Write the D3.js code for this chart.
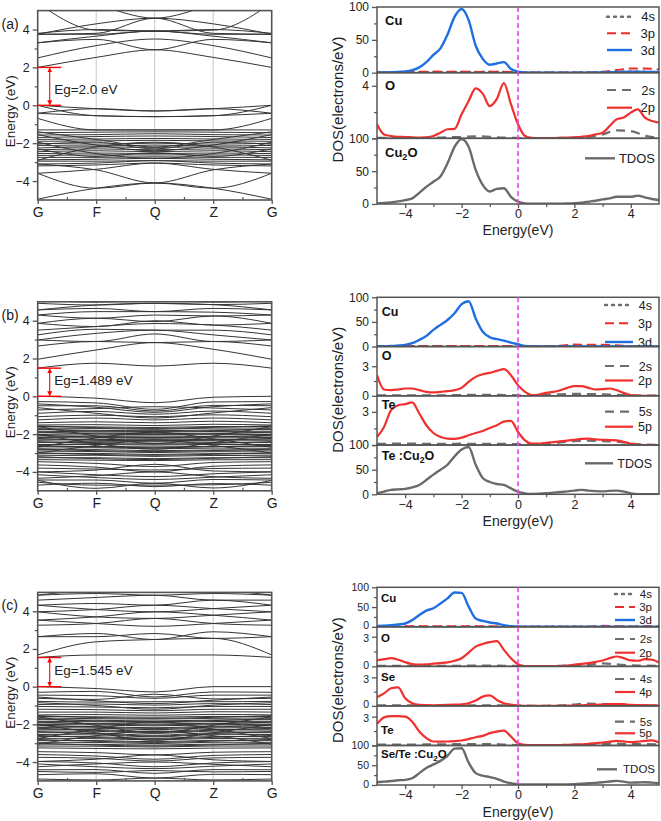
<!DOCTYPE html>
<html><head><meta charset="utf-8">
<script src="https://cdn.jsdelivr.net/npm/d3@7"></script>
<style>
body{margin:0;background:#fff;}
svg{display:block;font-family:"Liberation Sans",Arial,Helvetica,sans-serif;}
</style>
</head><body>
<svg id="chart" width="661" height="821"></svg>
<script>
// ---------------- DATA ----------------
const kLabels = ["G","F","Q","Z","G"];
const kPos = [0,1,2,3,4];
const bandTicks = [-4,-2,0,2,4];
const gapValues = [2.0, 1.489, 1.545];
const gapTexts = ["Eg=2.0 eV","Eg=1.489 eV","Eg=1.545 eV"];
const panelTags = ["(a)","(b)","(c)"];

// band energies at G, F, Q, Z, G (eV)
const bandsA = [
 [2.00,2.53,2.93,2.53,2.00],[2.50,3.15,3.50,3.15,2.50],[3.30,3.48,2.93,3.48,3.30],
 [3.30,3.65,3.92,3.65,3.30],[3.75,3.75,3.92,3.75,3.75],[3.75,3.80,4.60,3.80,3.75],
 [3.80,4.00,3.92,4.00,3.80],[5.40,3.97,3.92,3.97,5.40],[6.00,5.30,4.60,5.30,6.00],
 [3.75,4.30,4.60,4.30,3.75],
 [0.00,-0.18,-0.30,-0.18,0.00],[0.00,-0.55,-0.60,-0.55,0.00],[-0.42,-0.18,-0.30,-0.18,-0.42],
 [-0.69,-1.30,-1.30,-1.30,-0.69],[-0.42,-0.55,-0.60,-0.55,-0.42],
 [-1.30,-1.30,-1.30,-1.30,-1.30],[-1.45,-1.42,-1.40,-1.42,-1.45],[-1.57,-1.55,-1.50,-1.55,-1.57],
 [-1.70,-1.65,-1.62,-1.65,-1.70],[-1.80,-1.78,-1.75,-1.78,-1.80],[-1.90,-1.88,-1.85,-1.88,-1.90],
 [-2.00,-2.05,-2.00,-2.05,-2.00],[-2.12,-2.15,-2.10,-2.15,-2.12],[-2.25,-2.20,-2.22,-2.20,-2.25],
 [-2.35,-2.30,-2.35,-2.30,-2.35],[-2.45,-2.40,-2.45,-2.40,-2.45],[-2.55,-2.52,-2.55,-2.52,-2.55],
 [-2.65,-2.62,-2.62,-2.62,-2.65],[-2.75,-2.75,-2.72,-2.75,-2.75],[-2.88,-2.85,-2.80,-2.85,-2.88],
 [-2.95,-2.95,-2.92,-2.95,-2.95],[-3.10,-3.05,-2.92,-3.05,-3.10],[-3.20,-3.15,-3.05,-3.15,-3.20],
 [-1.55,-2.10,-2.40,-2.10,-1.55],[-2.90,-2.20,-1.95,-2.20,-2.90],[-2.30,-2.70,-2.50,-2.70,-2.30],
 [-1.95,-2.55,-2.80,-2.55,-1.95],[-1.40,-1.80,-2.20,-1.80,-1.40],[-2.05,-1.95,-2.30,-1.95,-2.05],
 [-3.59,-3.38,-3.05,-3.38,-3.59],[-3.59,-4.38,-4.10,-4.38,-3.59],[-4.96,-4.38,-4.10,-4.38,-4.96],
 [-3.10,-3.41,-4.10,-3.41,-3.10]
];
const bandsB = [
 [1.49,1.75,1.60,1.75,1.49],[1.96,2.45,2.84,2.49,1.96],[2.66,2.90,2.84,2.90,2.66],
 [2.98,2.90,3.30,2.90,2.98],[2.98,3.33,3.50,3.25,2.98],[3.25,3.55,3.50,3.50,3.25],
 [3.50,3.69,3.85,3.77,3.50],[3.86,3.69,4.00,3.77,3.86],[3.86,4.13,3.95,4.25,3.86],
 [4.30,4.13,4.30,4.25,4.30],[4.30,4.48,4.48,4.45,4.30],[4.57,4.65,4.48,4.65,4.57],
 [4.57,4.83,4.92,4.85,4.57],[4.92,4.83,4.92,4.85,4.92],[5.10,4.98,5.10,4.98,5.10],
 [0.00,-0.10,-0.34,-0.05,0.00],[-0.28,-0.35,-0.69,-0.30,-0.28],[-0.50,-0.50,-0.78,-0.48,-0.50],
 [-0.72,-0.65,-0.55,-0.62,-0.72],[-0.90,-0.80,-0.95,-0.78,-0.90],[-1.08,-1.00,-1.08,-0.98,-1.08],
 [-1.25,-1.15,-1.25,-1.15,-1.25],[-1.40,-1.35,-1.40,-1.32,-1.40],
 [-0.40,-0.58,-0.85,-0.55,-0.40],[-0.60,-0.90,-1.15,-0.88,-0.60],
 [-1.52,-1.50,-1.55,-1.48,-1.52],[-1.60,-1.62,-1.65,-1.60,-1.60],[-1.68,-1.70,-1.75,-1.68,-1.68],
 [-1.76,-1.80,-1.82,-1.78,-1.76],[-1.85,-1.88,-1.90,-1.86,-1.85],[-1.93,-1.95,-1.98,-1.95,-1.93],
 [-2.02,-2.05,-2.05,-2.03,-2.02],[-2.10,-2.12,-2.15,-2.12,-2.10],[-2.18,-2.20,-2.22,-2.20,-2.18],
 [-2.27,-2.28,-2.30,-2.28,-2.27],[-2.35,-2.38,-2.38,-2.36,-2.35],[-2.45,-2.45,-2.48,-2.45,-2.45],
 [-2.55,-2.55,-2.58,-2.55,-2.55],[-2.65,-2.65,-2.68,-2.65,-2.65],[-2.75,-2.72,-2.78,-2.74,-2.75],
 [-2.85,-2.82,-2.88,-2.84,-2.85],[-2.95,-2.92,-2.98,-2.93,-2.95],[-3.05,-3.02,-3.08,-3.03,-3.05],
 [-3.15,-3.12,-3.18,-3.13,-3.15],[-3.25,-3.25,-3.30,-3.25,-3.25],[-3.35,-3.38,-3.40,-3.36,-3.35],
 [-1.56,-1.66,-1.70,-1.64,-1.56],[-1.72,-1.84,-1.86,-1.82,-1.72],[-1.89,-1.99,-2.02,-1.98,-1.89],
 [-2.06,-2.16,-2.18,-2.15,-2.06],[-2.23,-2.33,-2.35,-2.32,-2.23],[-2.40,-2.50,-2.53,-2.49,-2.40],
 [-2.60,-2.68,-2.72,-2.67,-2.60],[-2.80,-2.88,-2.92,-2.87,-2.80],[-3.00,-3.08,-3.12,-3.07,-3.00],
 [-3.20,-3.30,-3.35,-3.28,-3.20],
 [-1.60,-2.10,-2.50,-2.10,-1.60],[-2.70,-2.20,-1.90,-2.25,-2.70],[-3.00,-2.60,-2.30,-2.60,-3.00],
 [-2.00,-2.50,-2.80,-2.45,-2.00],
 [-3.46,-3.55,-3.72,-3.50,-3.46],[-3.63,-3.75,-4.00,-3.70,-3.63],[-4.00,-3.90,-3.60,-3.95,-4.00],
 [-4.00,-4.15,-4.25,-4.10,-4.00],[-4.34,-4.20,-4.00,-4.25,-4.34],[-4.43,-4.43,-4.60,-4.40,-4.43],
 [-4.70,-4.60,-4.78,-4.62,-4.70],[-4.45,-4.87,-4.60,-4.85,-4.45],
 [-3.80,-3.85,-3.90,-3.82,-3.80],[-4.15,-4.30,-4.40,-4.28,-4.15],[-4.55,-4.70,-4.70,-4.68,-4.55]
];
const bandsC = [
 [1.55,1.68,1.68,1.68,1.55],[1.68,2.38,2.50,2.56,1.68],[2.65,2.65,2.82,2.56,2.65],
 [2.65,2.82,2.50,2.91,2.65],[3.26,3.35,3.62,3.35,3.26],[3.53,3.35,3.20,3.35,3.53],
 [3.53,3.70,3.97,3.79,3.53],[3.97,3.70,3.62,3.79,3.97],[3.97,4.09,4.32,4.14,3.97],
 [4.32,4.09,3.97,4.14,4.32],[4.32,4.41,4.32,4.59,4.32],[4.59,4.73,4.85,4.59,4.59],
 [4.85,4.94,4.85,4.94,4.85],[4.85,5.10,5.05,5.10,4.85],
 [0.00,-0.10,-0.28,0.00,0.00],[-0.30,-0.25,-0.55,-0.28,-0.30],[-0.45,-0.48,-0.62,-0.45,-0.45],
 [-0.62,-0.68,-0.40,-0.65,-0.62],[-0.78,-0.82,-0.80,-0.80,-0.78],[-0.95,-0.92,-0.98,-0.90,-0.95],
 [-1.05,-1.08,-1.12,-1.05,-1.05],[-1.20,-1.22,-1.28,-1.20,-1.20],[-1.35,-1.35,-1.40,-1.33,-1.35],
 [-0.55,-0.75,-0.90,-0.72,-0.55],[-0.85,-1.00,-1.20,-0.98,-0.85],
 [-1.50,-1.48,-1.52,-1.47,-1.50],[-1.58,-1.60,-1.62,-1.58,-1.58],[-1.66,-1.70,-1.72,-1.68,-1.66],
 [-1.75,-1.78,-1.82,-1.77,-1.75],[-1.84,-1.86,-1.90,-1.85,-1.84],[-1.92,-1.95,-1.98,-1.94,-1.92],
 [-2.00,-2.03,-2.08,-2.02,-2.00],[-2.08,-2.12,-2.18,-2.10,-2.08],[-2.17,-2.20,-2.28,-2.19,-2.17],
 [-2.26,-2.28,-2.38,-2.27,-2.26],[-2.35,-2.37,-2.48,-2.36,-2.35],[-2.44,-2.46,-2.58,-2.45,-2.44],
 [-2.54,-2.56,-2.66,-2.55,-2.54],[-2.64,-2.66,-2.74,-2.65,-2.64],[-2.74,-2.76,-2.82,-2.75,-2.74],
 [-2.85,-2.86,-2.92,-2.85,-2.85],[-2.95,-2.96,-3.02,-2.95,-2.95],[-3.05,-3.06,-3.10,-3.05,-3.05],
 [-3.15,-3.16,-3.20,-3.15,-3.15],[-3.25,-3.28,-3.30,-3.26,-3.25],
 [-1.54,-1.64,-1.68,-1.63,-1.54],[-1.70,-1.82,-1.86,-1.80,-1.70],[-1.88,-1.98,-2.03,-1.97,-1.88],
 [-2.04,-2.15,-2.22,-2.14,-2.04],[-2.21,-2.32,-2.42,-2.31,-2.21],[-2.39,-2.50,-2.62,-2.49,-2.39],
 [-2.59,-2.70,-2.78,-2.69,-2.59],[-2.80,-2.90,-2.96,-2.89,-2.80],[-3.00,-3.10,-3.15,-3.09,-3.00],
 [-1.60,-2.05,-2.45,-2.05,-1.60],[-2.75,-2.25,-1.85,-2.25,-2.75],[-3.05,-2.60,-2.35,-2.60,-3.05],
 [-2.00,-2.45,-2.85,-2.45,-2.00],
 [-3.45,-3.50,-3.62,-3.48,-3.45],[-3.60,-3.68,-3.85,-3.65,-3.60],[-3.97,-3.85,-3.62,-3.88,-3.97],
 [-3.97,-4.05,-4.25,-4.05,-3.97],[-4.25,-4.10,-4.00,-4.12,-4.25],[-4.41,-4.40,-4.60,-4.40,-4.41],
 [-4.50,-4.55,-4.45,-4.52,-4.50],[-4.67,-4.62,-4.85,-4.65,-4.67],[-4.90,-4.95,-4.85,-4.95,-4.90],
 [-3.75,-3.80,-3.95,-3.78,-3.75],[-4.10,-4.25,-4.35,-4.22,-4.10]
];

// DOS energy grids (eV)
const energyGrid = [-5,-4.75,-4.5,-4.25,-4,-3.75,-3.5,-3.25,-3,-2.75,-2.5,-2.25,-2,-1.75,-1.5,-1.25,-1,-0.75,-0.5,-0.25,0,
 0.25,0.5,0.75,1,1.25,1.5,1.75,2,2.25,2.5,2.75,3,3.25,3.5,3.75,4,4.25,4.5,4.75,5];
const energyCoarse = [-5,-4.5,-4,-3.5,-3,-2.5,-2,-1.5,-1,-0.5,0,0.5,1,1.5,2,2.5,3,3.5,4,4.5,5];
const dosTicks = [-4,-2,0,2,4];

// (a) Cu2O
const cuA3d = [0.3,0.5,0.8,1.2,2,4,8,16,27,37,58,85,97,80,41,21,12,14,16,5.5,1.5,
 0.3,0.1,0.1,0.1,0.1,0.1,0.1,0.1,0.1,0.1,0.2,0.4,0.7,1,1.2,1.3,1.4,1.2,1,0.8];
const cuA3p = [0.2,0.4,0.7,1.3,1.6,1.4,1.3,1.1,1.3,1.3,0.3,0.1,0.1,0.1,0.1,0.2,1.5,4,6.5,6.5,5];
const cuA4s = [0.3,0.3,0.4,0.5,0.6,0.8,1.0,1.2,1.2,0.9,0.4,0.1,0.1,0.1,0.2,0.4,0.8,1.2,1.5,1.3,1.0];
const oA2p = [1.07,0.3,0.18,0.12,0.1,0.07,0.05,0.08,0.18,0.43,0.69,0.72,1.83,2.85,3.8,3.4,2.45,3.0,4.2,2.6,1.07,
 0.18,0.04,0.02,0.02,0.02,0.03,0.05,0.08,0.12,0.18,0.3,0.43,0.94,1.45,1.58,1.96,2.2,1.58,1.32,1.2];
const oA2s = [0.03,0.03,0.03,0.03,0.04,0.08,0.1,0.15,0.12,0.05,0.03,0.02,0.02,0.03,0.05,0.1,0.3,0.6,0.55,0.2,0.03];
const tdosA = [1,1.5,2.5,4,6,8.6,17,26,34,42,62,87,99,87,52,29,19,23,24,11,3.5,
 1,0.5,0.5,0.5,0.5,0.6,0.8,1.2,2,3.5,5,7,8.6,11,11,11,12.7,10,7.6,6];

// (b) Te:Cu2O
const cuB3d = [0.5,0.8,1,2,3.4,6.8,13.5,21.6,33.8,44,54,67.6,86,92,57,30,19,15,12,8,4.7,
 1.4,0.3,0.1,0.1,0.1,0.1,0.1,0.1,0.1,0.1,0.1,0.1,0.1,0.1,0.1,0.1,0.1,0.1,0.1,0.1];
const cuB3p = [0.3,0.5,0.8,1,1.2,1.2,1.1,1,1,1,0.6,0.2,0.5,1.8,4,3.5,3.5,2.5,0.5,0.1,0.1];
const cuB4s = [0.2,0.3,0.4,0.5,0.6,0.6,0.6,0.5,0.5,0.5,0.3,0.2,0.4,0.8,1.2,1.2,1.0,0.8,0.3,0.1,0.1];
const oB2p = [2.1,0.64,0.57,0.64,0.74,0.74,0.57,0.4,0.34,0.4,0.47,0.57,0.81,1.42,1.92,2.19,2.33,2.53,2.7,2.09,1.08,
 0.4,0.07,0.13,0.3,0.4,0.57,0.81,0.98,0.98,0.81,0.64,0.67,0.74,0.57,0.3,0.07,0.01,0,0,0];
const oB2s = [0.05,0.05,0.05,0.05,0.05,0.06,0.08,0.1,0.1,0.08,0.05,0.05,0.1,0.15,0.2,0.18,0.15,0.1,0.05,0.02,0.02];
const teB5p = [0.73,1.64,3.15,3.6,3.7,3.85,2.85,1.79,1.09,0.73,0.58,0.55,0.67,0.88,1.09,1.27,1.55,1.79,2.12,2.18,1.18,
 0.42,0.12,0.12,0.21,0.27,0.33,0.4,0.48,0.55,0.58,0.52,0.48,0.45,0.42,0.3,0.12,0.03,0,0,0];
const teB5s = [0.1,0.12,0.12,0.12,0.1,0.1,0.12,0.1,0.1,0.1,0.08,0.05,0.1,0.25,0.35,0.4,0.35,0.3,0.15,0.05,0.02];
const tdosB = [2,5.5,9,10,11,14,19,29,40,50,60,77,91,96,60,33,25,21,19,12,5.5,
 2,0.7,1,2,3.5,4.8,6,7.5,9,7.5,6.5,6,7,7.5,5.5,2,0.3,0,0,0];

// (c) Se/Te:Cu2O
const cuC3d = [2.5,3,4,6,8.5,17,30,41,47,59,72,87,86,51,21,15,11,8.5,4,1.7,0.5,
 0.2,0.2,0.2,0.2,0.2,0.2,0.2,0.2,0.2,0.2,0.2,0.2,0.2,0.2,0.2,0.2,0.2,0.2,0.2,0.2];
const cuC3p = [0.5,0.8,1.2,1.2,1.2,1.2,1.2,1.2,1.2,1,0.4,0.2,0.2,0.2,0.2,0.3,2.5,1.5,1,2,1];
const cuC4s = [0.5,0.5,0.6,0.6,0.6,0.6,0.6,0.5,0.5,0.5,0.3,0.2,0.2,0.2,0.3,0.4,0.6,0.6,0.5,0.5,0.4];
const oC2p = [0.6,0.73,0.83,0.67,0.43,0.23,0.17,0.2,0.27,0.33,0.4,0.57,0.83,1.4,2.0,2.27,2.45,2.55,1.67,0.83,0.23,
 0.03,0.02,0.02,0.02,0.02,0.03,0.08,0.17,0.25,0.33,0.45,0.6,0.83,1.0,0.83,0.6,0.57,0.73,0.67,0.4];
const oC2s = [0.05,0.05,0.05,0.05,0.05,0.05,0.06,0.08,0.08,0.06,0.04,0.03,0.03,0.05,0.1,0.15,0.3,0.2,0.1,0.08,0.05];
const seC4p = [0.9,1.32,1.85,1.95,0.8,0.28,0.1,0.08,0.07,0.08,0.1,0.13,0.17,0.28,0.56,0.98,1.1,0.63,0.28,0.14,0.03,
 0.02,0.02,0.02,0.02,0.02,0.02,0.03,0.05,0.07,0.1,0.12,0.15,0.18,0.2,0.18,0.1,0.09,0.08,0.06,0.05];
const seC4s = [0.05,0.05,0.05,0.05,0.05,0.05,0.05,0.05,0.05,0.05,0.03,0.02,0.02,0.05,0.15,0.25,0.2,0.15,0.08,0.05,0.04];
const teC5p = [2.24,2.93,3.05,3.05,3.0,2.48,1.45,0.76,0.41,0.4,0.41,0.45,0.52,0.66,0.86,1.0,1.28,1.45,1.55,0.93,0.24,
 0.07,0.05,0.05,0.05,0.05,0.05,0.06,0.08,0.12,0.17,0.25,0.31,0.4,0.48,0.42,0.34,0.4,0.48,0.52,0.31];
const teC5s = [0.1,0.1,0.1,0.1,0.12,0.12,0.15,0.15,0.15,0.1,0.05,0.03,0.03,0.05,0.08,0.1,0.15,0.2,0.15,0.15,0.1];
const tdosC = [7,8.5,10,12,13,17,30,43,52,61,74,92,93,56.5,30,23.5,20,15.6,8.7,4.3,1.7,
 1.5,1.5,1.5,1.5,1.5,1.5,1.6,2,3,4.3,5.5,7,9,10.4,8.5,6,6.5,7,6,4.3];

// ---------------- DRAWING ----------------
const svg = d3.select("#chart");
const FRAME = "#555";
const FONT = "Liberation Sans, Arial, sans-serif";
const styles = {
  s4s:{stroke:"#6e6e6e", dash:"2,5", width:2.4, cap:"round"},
  s3p:{stroke:"#ee2b2b", dash:"9,5", width:2, cap:"butt"},
  s3d:{stroke:"#1f6fe0", dash:null, width:2.4, cap:"butt"},
  s2s:{stroke:"#6e6e6e", dash:"9,6", width:2.2, cap:"butt"},
  s2p:{stroke:"#f0302e", dash:null, width:2.2, cap:"butt"},
  tdos:{stroke:"#6a6a6a", dash:null, width:2.4, cap:"butt"}
};
function applyStyle(sel, st){
  sel.attr("fill","none").attr("stroke",st.stroke).attr("stroke-width",st.width)
     .attr("stroke-linecap",st.cap).attr("stroke-linejoin","round");
  if(st.dash) sel.attr("stroke-dasharray",st.dash);
  return sel;
}
const defs = svg.append("defs");
defs.append("marker").attr("id","ah").attr("viewBox","0 0 10 10").attr("refX",9).attr("refY",5)
  .attr("markerWidth",5).attr("markerHeight",5).attr("markerUnits","userSpaceOnUse")
  .attr("orient","auto-start-reverse")
  .append("path").attr("d","M0,0L10,5L0,10z").attr("fill","#ff0000");

// ----- band structure panels -----
const bandSets = [bandsA, bandsB, bandsC];
const bandFrames = [{top:10.6,bottom:200},{top:301.8,bottom:490.8},{top:592.4,bottom:780.9}];
const tagY = [28.5, 319.5, 609.5];
const bx = d3.scaleLinear().domain([0,4]).range([37.7, 271.7]);

bandSets.forEach((bands, p) => {
  const fr = bandFrames[p];
  const y = d3.scaleLinear().domain([-5,5]).range([fr.bottom, fr.top]);
  const g = svg.append("g");
  const cid = "bclip"+p;
  defs.append("clipPath").attr("id",cid).append("rect")
    .attr("x",bx(0)).attr("y",fr.top).attr("width",bx(4)-bx(0)).attr("height",fr.bottom-fr.top);
  g.selectAll(".grid").data([1,2,3]).enter().append("line")
    .attr("x1",d=>bx(d)).attr("x2",d=>bx(d)).attr("y1",fr.top).attr("y2",fr.bottom)
    .attr("stroke","#c8c8c8").attr("stroke-width",1);
  const line = d3.line().x((d,i)=>bx(kPos[i])).y(d=>y(d)).curve(d3.curveMonotoneX);
  g.append("g").attr("clip-path",`url(#${cid})`).selectAll("path").data(bands).enter().append("path")
    .attr("d",line).attr("fill","none").attr("stroke","#353535").attr("stroke-width",1);
  g.append("rect").attr("x",bx(0)).attr("y",fr.top).attr("width",bx(4)-bx(0)).attr("height",fr.bottom-fr.top)
    .attr("fill","none").attr("stroke",FRAME).attr("stroke-width",1.6);
  const ya = g.append("g").attr("transform",`translate(${bx(0)},0)`)
    .call(d3.axisLeft(y).tickValues(bandTicks).tickFormat(d3.format("d")).tickSize(5).tickPadding(3));
  ya.select(".domain").remove();
  ya.selectAll("line").attr("stroke",FRAME).attr("stroke-width",1.3);
  ya.selectAll("text").attr("font-size",12.5).attr("fill","#222").attr("font-family",FONT);
  const yMinor = g.append("g").attr("transform",`translate(${bx(0)},0)`)
    .call(d3.axisLeft(y).tickValues([-3,-1,1,3]).tickFormat("").tickSize(3));
  yMinor.select(".domain").remove();
  yMinor.selectAll("line").attr("stroke",FRAME).attr("stroke-width",1.2);
  const xa = g.append("g").attr("transform",`translate(0,${fr.bottom})`)
    .call(d3.axisBottom(bx).tickValues(kPos).tickFormat((d,i)=>kLabels[i]).tickSize(4).tickPadding(3));
  xa.select(".domain").remove();
  xa.selectAll("line").attr("stroke",FRAME).attr("stroke-width",1.3);
  xa.selectAll("text").attr("font-size",14).attr("fill","#222").attr("font-family",FONT);
  const xMinor = g.append("g").attr("transform",`translate(0,${fr.bottom})`)
    .call(d3.axisTop(bx).tickValues([0.5,1.5,2.5,3.5]).tickFormat("").tickSize(3));
  xMinor.select(".domain").remove();
  xMinor.selectAll("line").attr("stroke",FRAME).attr("stroke-width",1.2);
  g.append("text").attr("transform",`translate(15,${(fr.top+fr.bottom)/2+6}) rotate(-90)`)
    .attr("text-anchor","middle").attr("font-size",13.5).attr("fill","#222").text("Energy (eV)");
  g.append("text").attr("x",1.5).attr("y",tagY[p]).attr("font-size",14).attr("fill","#222").text(panelTags[p]);
  const gap = gapValues[p];
  [0,gap].forEach(e=>{
    g.append("line").attr("x1",bx(0)).attr("x2",bx(0)+23.5).attr("y1",y(e)).attr("y2",y(e))
      .attr("stroke","#ff0000").attr("stroke-width",1.4);
  });
  g.append("line").attr("x1",bx(0)+12).attr("x2",bx(0)+12).attr("y1",y(0)-0.5).attr("y2",y(gap)+0.5)
    .attr("stroke","#ff0000").attr("stroke-width",1.1)
    .attr("marker-start","url(#ah)").attr("marker-end","url(#ah)");
  g.append("text").attr("x",bx(0)+16.5).attr("y",y(0.86)+4.8).attr("font-size",13.5).attr("fill","#222")
    .text(gapTexts[p]);
});

// ----- DOS panels -----
const dx = d3.scaleLinear().domain([-5,5]).range([377, 659]);
const dosFigs = [
 { top:7, bottom:204, xlabY:234.5, fs:13, tfs:12, nudge:0, lab:{x:385}, legLine:[607,632], legEnd:655, tdLine:[585,615], tdEnd:655,
   panels:[
    {max:100, ticks:[0,50,100], minor:[25,75], label:[["Cu"]], labelY:20,
     curves:[[cuA4s,energyCoarse,"s4s"],[cuA3p,energyCoarse,"s3p"],[cuA3d,energyGrid,"s3d"]],
     legend:[["4s","s4s",16.7],["3p","s3p",33.3],["3d","s3d",50]]},
    {max:5, ticks:[0,4], minor:[2], label:[["O"]], labelY:85,
     curves:[[oA2s,energyCoarse,"s2s"],[oA2p,energyGrid,"s2p"]],
     legend:[["2s","s2s",90],["2p","s2p",107.7]]},
    {max:100, ticks:[0,50,100], minor:[25,75], label:[["Cu"],["2",1],["O"]], labelY:155,
     curves:[[tdosA,energyGrid,"tdos"]], legend:[["TDOS","tdos",158.3,1]]}
   ]},
 { top:297.3, bottom:494.3, xlabY:526, fs:12.5, tfs:12, nudge:0, lab:{x:381.7}, legLine:[605,633], legEnd:652, tdLine:[585,613], tdEnd:652,
   panels:[
    {max:100, ticks:[0,50,100], minor:[25,75], label:[["Cu"]], labelY:311.7,
     curves:[[cuB4s,energyCoarse,"s4s"],[cuB3p,energyCoarse,"s3p"],[cuB3d,energyGrid,"s3d"]],
     legend:[["4s","s4s",305],["3p","s3p",323.3],["3d","s3d",342]]},
    {max:5, ticks:[0,3], minor:[1.5], label:[["O"]], labelY:355,
     curves:[[oB2s,energyCoarse,"s2s"],[oB2p,energyGrid,"s2p"]],
     legend:[["2s","s2s",366],["2p","s2p",380.5]]},
    {max:4.45, ticks:[0,3], minor:[1.5], label:[["Te"]], labelY:404,
     curves:[[teB5s,energyCoarse,"s2s"],[teB5p,energyGrid,"s2p"]],
     legend:[["5s","s2s",411.7],["5p","s2p",426.7]]},
    {max:100, ticks:[0,50,100], minor:[25,75], label:[["Te :Cu"],["2",1],["O"]], labelY:458.3,
     curves:[[tdosB,energyGrid,"tdos"]], legend:[["TDOS","tdos",463.3,1]]}
   ]},
 { top:587.3, bottom:785, xlabY:816.5, fs:11.5, tfs:10.5, nudge:1.3, lab:{x:381}, legLine:[615,635], legEnd:652, tdLine:[597,617], tdEnd:655,
   panels:[
    {max:100, ticks:[0,50,100], minor:[25,75], label:[["Cu"]], labelY:598,
     curves:[[cuC4s,energyCoarse,"s4s"],[cuC3p,energyCoarse,"s3p"],[cuC3d,energyGrid,"s3d"]],
     legend:[["4s","s4s",594],["3p","s3p",607],["3d","s3d",620]]},
    {max:4, ticks:[0,3], minor:[1.5], label:[["O"]], labelY:638,
     curves:[[oC2s,energyCoarse,"s2s"],[oC2p,energyGrid,"s2p"]],
     legend:[["2s","s2s",639],["2p","s2p",652.7]]},
    {max:4.15, ticks:[0,3], minor:[1.5], label:[["Se"]], labelY:676.7,
     curves:[[seC4s,energyCoarse,"s2s"],[seC4p,energyGrid,"s2p"]],
     legend:[["4s","s2s",679],["4p","s2p",692]]},
    {max:4.12, ticks:[0,3], minor:[1.5], label:[["Te"]], labelY:730,
     curves:[[teC5s,energyCoarse,"s2s"],[teC5p,energyGrid,"s2p"]],
     legend:[["5s","s2s",721.7],["5p","s2p",733.3]]},
    {max:100, ticks:[0,50,100], minor:[25,75], label:[["Se/Te :Cu"],["2",1],["O"]], labelY:756.7,
     curves:[[tdosC,energyGrid,"tdos"]], legend:[["TDOS","tdos",769.3,1]]}
   ]}
];

dosFigs.forEach((fig, fi) => {
  const g = svg.append("g");
  const n = fig.panels.length;
  const h = (fig.bottom - fig.top)/n;
  fig.panels.forEach((p, pi) => {
    const y0 = fig.top + pi*h, y1 = y0 + h;
    const y = d3.scaleLinear().domain([0,p.max]).range([y1, y0]);
    const cid = `dclip${fi}_${pi}`;
    defs.append("clipPath").attr("id",cid).append("rect")
      .attr("x",dx(-5)).attr("y",y0).attr("width",dx(5)-dx(-5)).attr("height",h);
    const cg = g.append("g").attr("clip-path",`url(#${cid})`);
    p.curves.forEach(([vals, grid, sk]) => {
      const ln = d3.line().x((d,i)=>dx(grid[i])).y(d=>y(d)).curve(d3.curveMonotoneX);
      applyStyle(cg.append("path").datum(vals).attr("d",ln), styles[sk]);
    });
    // the "0" of a panel shares its spot with the "100" of the panel below: the two read as "100"
    const next = fig.panels[pi+1];
    const shared = next && next.ticks.includes(next.max);
    const fmt = d => (shared && d === 0) ? "" : d3.format("d")(d);
    const ya = g.append("g").attr("transform",`translate(${dx(-5)},0)`)
      .call(d3.axisLeft(y).tickValues(p.ticks).tickFormat(fmt).tickSize(5).tickPadding(3));
    ya.select(".domain").remove();
    ya.selectAll("line").attr("stroke",FRAME).attr("stroke-width",1.3);
    ya.selectAll("text").attr("font-size",fig.tfs).attr("fill","#222").attr("font-family",FONT)
      .attr("transform", d => d === 0 ? `translate(0,${-fig.nudge})` : (d < 10 ? `translate(0,${fig.nudge})` : null));
    const ym = g.append("g").attr("transform",`translate(${dx(-5)},0)`)
      .call(d3.axisLeft(y).tickValues(p.minor).tickFormat("").tickSize(3));
    ym.select(".domain").remove();
    ym.selectAll("line").attr("stroke",FRAME).attr("stroke-width",1.2);
    const t = g.append("text").attr("x",fig.lab.x).attr("y",p.labelY + fig.fs*0.36)
      .attr("font-size",fig.fs).attr("font-weight","bold").attr("fill","#111");
    p.label.forEach(([s,sub])=>{
      if(sub) t.append("tspan").attr("font-size",fig.fs*0.7).attr("dy",3).text(s);
      else t.append("tspan").attr("dy", t.selectAll("tspan").size() && p.label.length>1 ? -3 : 0).text(s);
    });
    p.legend.forEach(([txt, sk, ly, isT])=>{
      const L = isT ? fig.tdLine : fig.legLine;
      const E = isT ? fig.tdEnd : fig.legEnd;
      applyStyle(g.append("line").attr("x1",L[0]).attr("x2",L[1]).attr("y1",ly).attr("y2",ly), styles[sk]);
      g.append("text").attr("x",E).attr("y",ly+fig.fs*0.36).attr("text-anchor","end")
        .attr("font-size",fig.fs).attr("fill","#222").text(txt);
    });
    g.append("rect").attr("x",dx(-5)).attr("y",y0).attr("width",dx(5)-dx(-5)).attr("height",h)
      .attr("fill","none").attr("stroke",FRAME).attr("stroke-width",1.5);
  });
  g.append("line").attr("x1",dx(0)).attr("x2",dx(0)).attr("y1",fig.top).attr("y2",fig.bottom)
    .attr("stroke","#f23ff2").attr("stroke-width",1.6).attr("stroke-dasharray","5,3");
  const yb = fig.bottom;
  const xa = g.append("g").attr("transform",`translate(0,${yb})`)
    .call(d3.axisBottom(dx).tickValues(dosTicks).tickFormat(d3.format("d")).tickSize(4).tickPadding(1.5));
  xa.select(".domain").remove();
  xa.selectAll("line").attr("stroke",FRAME).attr("stroke-width",1.3);
  xa.selectAll("text").attr("font-size",12.5).attr("fill","#222").attr("font-family",FONT);
  const xm = g.append("g").attr("transform",`translate(0,${yb})`)
    .call(d3.axisBottom(dx).tickValues([-3,-1,1,3]).tickFormat("").tickSize(3));
  xm.select(".domain").remove();
  xm.selectAll("line").attr("stroke",FRAME).attr("stroke-width",1.2);
  g.append("text").attr("x",dx(0)).attr("y",fig.xlabY).attr("text-anchor","middle")
    .attr("font-size",14).attr("fill","#222").text("Energy(eV)");
  g.append("text").attr("transform",`translate(343,${(fig.top+fig.bottom)/2-6}) rotate(-90)`)
    .attr("text-anchor","middle").attr("font-size",15).attr("fill","#222").text("DOS(electrons/eV)");
});
</script>
</body></html>
